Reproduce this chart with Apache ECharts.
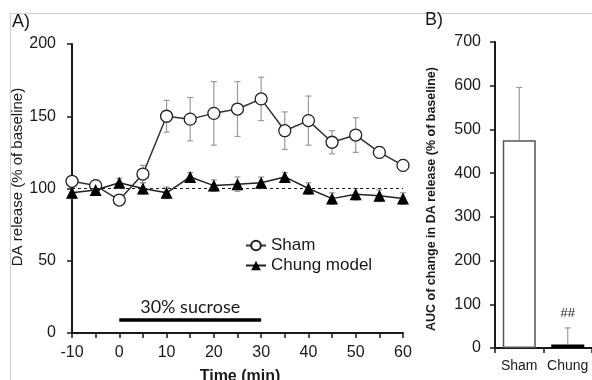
<!DOCTYPE html>
<html>
<head>
<meta charset="utf-8">
<script src="https://cdn.jsdelivr.net/npm/echarts@6/dist/echarts.min.js"></script>
<style>
  html, body { margin: 0; padding: 0; background: #fff; }
  #chart { width: 592px; height: 380px; }
</style>
</head>
<body>
<div id="chart"></div>
<script>
// panel A: time course (min)
const timeMin = [-10, -5, 0, 5, 10, 15, 20, 25, 30, 35, 40, 45, 50, 55, 60];
const shamMean = [105, 102, 92, 110, 150, 148, 152, 155, 162, 140, 147, 132, 137, 125, 116];
const shamErr = [3, 2, 3, 6, 11, 15, 22, 19, 15, 13, 17, 8, 12, 4, 4];
const chungMean = [97, 99, 104, 100, 97, 108, 102, 103, 104, 108, 100, 93, 96, 95, 93];
const chungErr = [4, 3, 3, 4, 4, 3, 4, 5, 4, 3, 4, 4, 4, 4, 4];
const baseline = 100;
const sucroseStart = 0;
const sucroseEnd = 30;
const sucroseLevel = 9;

// panel B: AUC
const groups = ['Sham', 'Chung'];
const aucMean = [475, 8];
const aucErr = [121, 38];
const aucMark = ['', '##'];

const FONT = '"Liberation Sans", Arial, sans-serif';
const INK = '#1a1a1a';
const ERR = '#9a9a9a';

const chart = echarts.init(document.getElementById('chart'), null, { renderer: 'canvas' });

function errBar(cap, upOnly) {
  return (params, api) => {
    const x = api.value(0);
    const m = api.value(1);
    const e = api.value(2);
    const lo = api.coord([x, upOnly ? m : m - e]);
    const hi = api.coord([x, m + e]);
    const style = { stroke: ERR, lineWidth: 1.2 };
    const children = [
      { type: 'line', shape: { x1: lo[0], y1: lo[1], x2: hi[0], y2: hi[1] }, style },
      { type: 'line', shape: { x1: hi[0] - cap, y1: hi[1], x2: hi[0] + cap, y2: hi[1] }, style },
    ];
    if (!upOnly) {
      children.push({ type: 'line', shape: { x1: lo[0] - cap, y1: lo[1], x2: lo[0] + cap, y2: lo[1] }, style });
    }
    const mark = api.value(3);
    if (mark) {
      children.push({
        type: 'text',
        style: { text: String(mark), x: hi[0], y: hi[1] - 14, align: 'center', verticalAlign: 'middle',
          font: '13px ' + FONT, fill: INK },
      });
    }
    return { type: 'group', children };
  };
}

const axisLineA = { show: true, onZero: false, lineStyle: { color: INK, width: 2 } };
const tickA = { show: true, inside: false, length: 5, lineStyle: { color: INK, width: 1.5 } };

chart.setOption({
  animation: false,
  backgroundColor: '#fff',
  textStyle: { fontFamily: FONT },
  grid: [
    { left: 72, top: 44, right: 189, bottom: 47 },
    { left: 495, top: 42, right: -2, bottom: 32 },
  ],
  xAxis: [
    {
      gridIndex: 0, type: 'value', min: -10, max: 60, interval: 5,
      axisLine: axisLineA, axisTick: tickA, splitLine: { show: false },
      axisLabel: { fontSize: 16, color: INK, margin: 12, formatter: v => (v % 10 === 0 ? String(v) : '') },
    },
    {
      gridIndex: 1, type: 'category', data: groups,
      axisLine: axisLineA, axisTick: tickA, splitLine: { show: false },
      axisLabel: { fontSize: 14, color: INK, margin: 11, interval: 0, hideOverlap: false },
    },
  ],
  yAxis: [
    {
      gridIndex: 0, type: 'value', min: 0, max: 200, interval: 50,
      axisLine: axisLineA, axisTick: tickA, splitLine: { show: false },
      axisLabel: { fontSize: 16, color: INK, margin: 16 },
    },
    {
      gridIndex: 1, type: 'value', min: 0, max: 700, interval: 100,
      axisLine: axisLineA, axisTick: tickA, splitLine: { show: false },
      axisLabel: { fontSize: 16, color: INK, margin: 14 },
    },
  ],
  legend: {
    orient: 'vertical', left: 240, top: 232, itemGap: 3, itemWidth: 20, itemHeight: 12,
    textStyle: { fontSize: 17, color: INK, fontFamily: FONT },
    data: ['Sham', 'Chung model'],
  },
  graphic: [
    { type: 'rect', shape: { x: 10.5, y: 13.5, width: 640, height: 420 }, style: { fill: 'none', stroke: '#cfcfcf', lineWidth: 1 }, silent: true },
    { type: 'text', left: 12, top: 13, style: { text: 'A)', font: '18px ' + FONT, fill: INK } },
    { type: 'text', left: 425, top: 11, style: { text: 'B)', font: '18px ' + FONT, fill: INK } },
    { type: 'text', x: 18, y: 177, rotation: Math.PI / 2,
      style: { text: 'DA release (% of baseline)', font: '15px ' + FONT, fill: INK, align: 'center', verticalAlign: 'middle' } },
    { type: 'text', x: 432, y: 199, rotation: Math.PI / 2,
      style: { text: 'AUC of change in DA release (% of baseline)', font: 'bold 12.5px ' + FONT, fill: INK, align: 'center', verticalAlign: 'middle' } },
    { type: 'text', x: 240, y: 377,
      style: { text: 'Time (min)', font: 'bold 16px ' + FONT, fill: INK, align: 'center', verticalAlign: 'middle' } },
  ],
  series: [
    {
      type: 'custom', xAxisIndex: 0, yAxisIndex: 0, z: 1, silent: true,
      renderItem: errBar(3, false),
      data: timeMin.map((t, i) => [t, shamMean[i], shamErr[i]]),
    },
    {
      type: 'custom', xAxisIndex: 0, yAxisIndex: 0, z: 1, silent: true,
      renderItem: errBar(3, false),
      data: timeMin.map((t, i) => [t, chungMean[i], chungErr[i]]),
    },
    {
      name: 'Sham', type: 'line', xAxisIndex: 0, yAxisIndex: 0, z: 3,
      data: timeMin.map((t, i) => [t, shamMean[i]]),
      symbol: 'circle', symbolSize: 12,
      lineStyle: { color: '#333', width: 1.5 },
      itemStyle: { color: '#fff', borderColor: '#222', borderWidth: 1.3 },
      markLine: {
        silent: true, symbol: 'none',
        lineStyle: { color: INK, type: [3, 3], width: 1 },
        label: { show: false },
        data: [{ yAxis: baseline }],
      },
    },
    {
      name: 'Chung model', type: 'line', xAxisIndex: 0, yAxisIndex: 0, z: 4,
      data: timeMin.map((t, i) => [t, chungMean[i]]),
      symbol: 'triangle', symbolSize: 12,
      lineStyle: { color: '#222', width: 1.5 },
      itemStyle: { color: '#000' },
      markLine: {
        silent: true, symbol: 'none',
        lineStyle: { color: '#000', type: 'solid', width: 3.5 },
        label: { show: true, position: 'middle', formatter: '30% sucrose', fontSize: 18, fontFamily: 'Lato, sans-serif', color: INK, distance: 4 },
        data: [[{ coord: [sucroseStart, sucroseLevel] }, { coord: [sucroseEnd, sucroseLevel] }]],
      },
    },
    {
      type: 'bar', xAxisIndex: 1, yAxisIndex: 1, barWidth: 33, z: 2,
      data: aucMean.map((v, i) => ({
        value: v,
        itemStyle: i === 0 ? { color: '#fff', borderColor: '#555', borderWidth: 1.5 } : { color: '#000' },
      })),
    },
    {
      type: 'custom', xAxisIndex: 1, yAxisIndex: 1, z: 1, silent: true,
      renderItem: errBar(3, true),
      data: groups.map((g, i) => [i, aucMean[i], aucErr[i], aucMark[i]]),
    },
  ],
});
</script>
</body>
</html>
